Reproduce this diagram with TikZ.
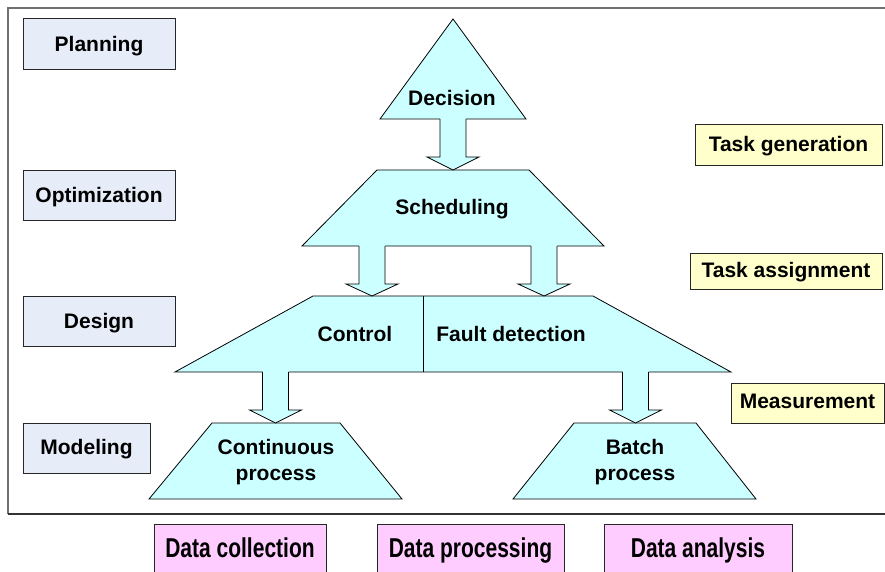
\documentclass[tikz,border=0pt]{standalone}
\usepackage{fontspec}
\setmainfont{Liberation Sans}
\definecolor{cyanfill}{HTML}{CCFFFF}
\definecolor{lavfill}{HTML}{E6ECF8}
\definecolor{yelfill}{HTML}{FFFFCC}
\definecolor{pinkfill}{HTML}{FFCCFF}
\definecolor{framegray}{HTML}{707070}
\begin{document}
\begin{tikzpicture}[x=1pt,y=-1pt,
  lbl/.style={font=\fontsize{21}{25}\selectfont\bfseries, inner sep=0pt, anchor=base},
  boxbase/.style={draw=black!85, line width=0.8pt},
  lbox/.style={boxbase, fill=lavfill},
  ybox/.style={boxbase, fill=yelfill},
  pbox/.style={boxbase, fill=pinkfill},
  layer/.style={draw=black, line width=0.8pt, fill=cyanfill, line join=miter},
  barrowfill/.style={fill=cyanfill},
  barrowline/.style={draw=black, line width=0.8pt}]
\useasboundingbox (0,0) rectangle (885,572);
% frame
\draw[framegray, line width=1.3pt] (895,8) -- (8,8) -- (8,514);
\draw[black!80, line width=1.6pt] (8,514) -- (895,514);

% left boxes
\draw[lbox] (23,18) rectangle (175,69);
\draw[lbox] (23,170) rectangle (175,220);
\draw[lbox] (23,296) rectangle (175,346);
\draw[lbox] (23,423) rectangle (150,473);
\node[lbl] (plan) at (99,52) {Planning};
\node[lbl] (opt) at (99,202) {Optimization};
\node[lbl] (des) at (99,328) {Design};
\node[lbl] (mod) at (86.5,454) {Modeling};

% right boxes
\draw[ybox] (695,124) rectangle (882,165);
\draw[ybox] (690,253) rectangle (882,289);
\draw[ybox] (731,383) rectangle (884,423);
\node[lbl] (tgen) at (788.5,152) {Task generation};
\node[lbl] (tass) at (786,277) {Task assignment};
\node[lbl] (meas) at (807.5,408.5) {Measurement};

% bottom boxes (bottom edges beyond the picture)
\draw[pbox] (154,524) rectangle (326,585);
\draw[pbox] (377,524) rectangle (564,585);
\draw[pbox] (604,524) rectangle (792,585);
\node[lbl] (dcol) at (240,557) {\scalebox{1}[1.3]{Data collection}};
\node[lbl] (dproc) at (470.5,557) {\scalebox{1}[1.3]{Data processing}};
\node[lbl] (dana) at (698,557) {\scalebox{1}[1.3]{Data analysis}};

% layers
\draw[layer] (453,19) -- (526,119) -- (380,119) -- cycle;
\draw[layer] (377,170) -- (529,170) -- (604,246) -- (302,246) -- cycle;
\draw[layer] (313,296) -- (593,296) -- (731,372) -- (175,372) -- cycle;
\draw[black, line width=0.9pt] (423,296) -- (423,372);
\draw[layer] (212,423) -- (340,423) -- (402,499) -- (149,499) -- cycle;
\draw[layer] (574,423) -- (696,423) -- (756,499) -- (513,499) -- cycle;

% text of layers
\node[lbl] (dec) at (452,106) {Decision};
\node[lbl] (sch) at (452,214) {Scheduling};
\node[lbl] (ctl) at (355,341) {Control};
\node[lbl] (fd) at (511,341) {Fault detection};
\node[lbl] (cp1) at (276,454) {Continuous};
\node[lbl] (cp2) at (276,480) {process};
\node[lbl] (bp1) at (635,454) {Batch};
\node[lbl] (bp2) at (635,480) {process};

% block arrows
\foreach \cx/\ytop/\yhead/\ytip in {453/119/157/170, 372/246/284/296, 544/246/284/296, 275.5/372/410/423, 635.5/372/410/423}{
  \fill[barrowfill] (\cx-13,\ytop-1.2) -- (\cx-13,\yhead) -- (\cx-26,\yhead) -- (\cx,\ytip) -- (\cx+26,\yhead) -- (\cx+13,\yhead) -- (\cx+13,\ytop-1.2) -- cycle;
  \draw[barrowline] (\cx-13,\ytop) -- (\cx-13,\yhead) -- (\cx-26,\yhead) -- (\cx,\ytip) -- (\cx+26,\yhead) -- (\cx+13,\yhead) -- (\cx+13,\ytop);
}
\end{tikzpicture}
\end{document}
